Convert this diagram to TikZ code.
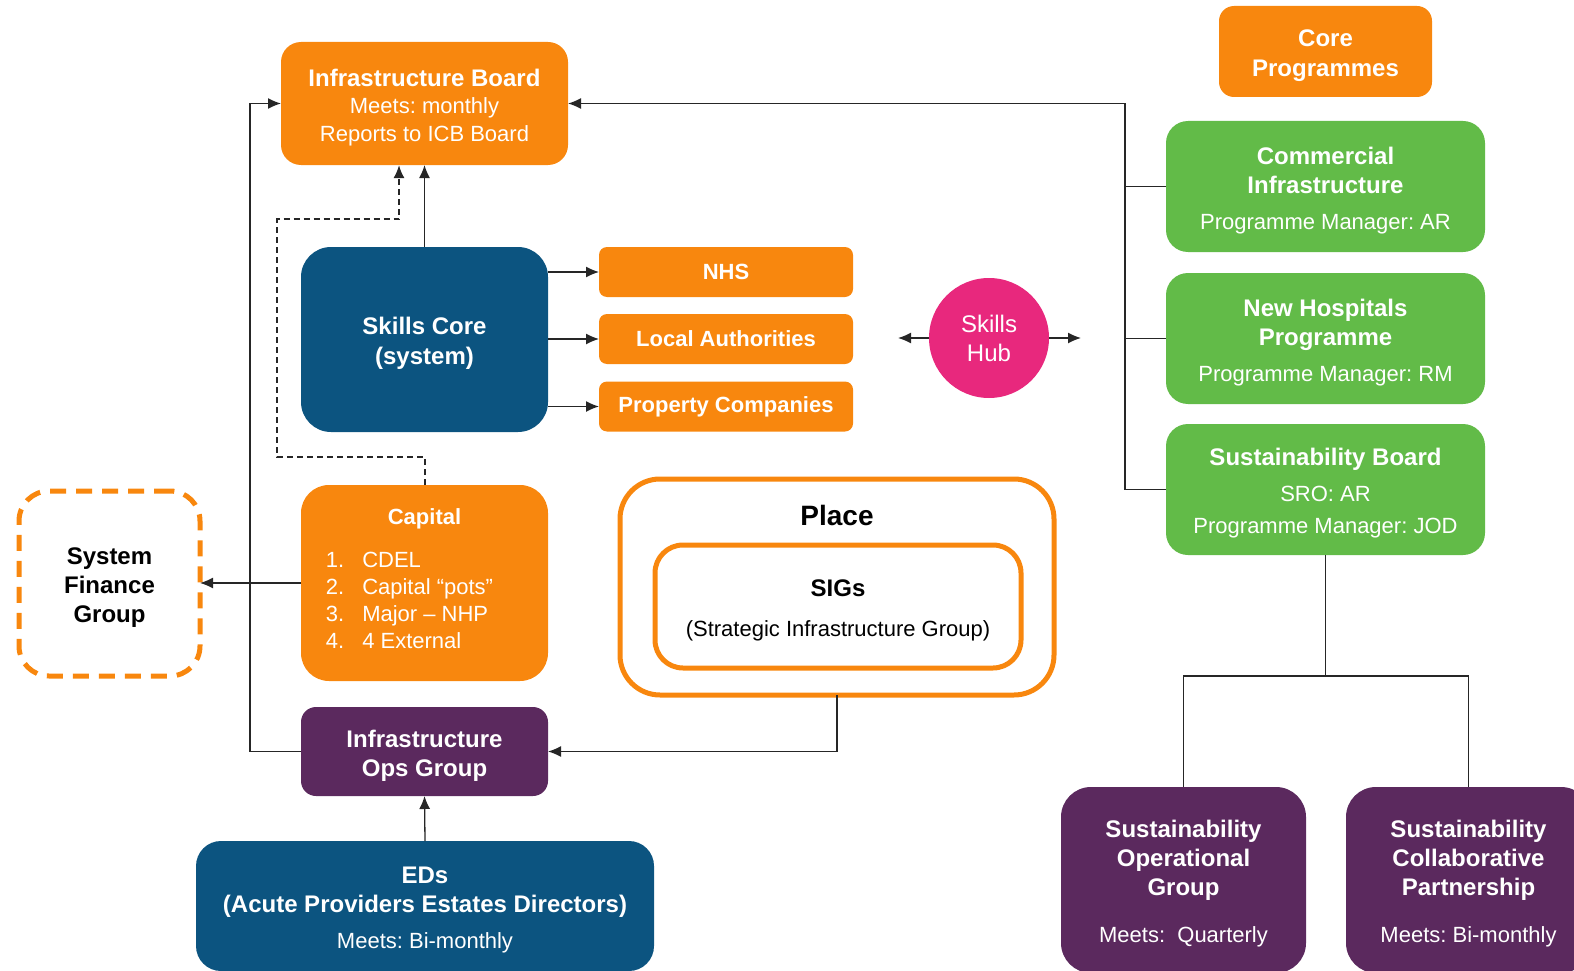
\documentclass[tikz,border=0pt]{standalone}
\usepackage{fontspec}
\setmainfont{Liberation Sans}
\usetikzlibrary{arrows.meta}
\definecolor{icborange}{RGB}{248,135,14}
\definecolor{icbgreen}{RGB}{98,187,72}
\definecolor{icbblue}{RGB}{12,84,128}
\definecolor{icbpurple}{RGB}{91,41,94}
\definecolor{icbpink}{RGB}{232,40,125}
\newcommand{\hd}{\fontsize{24}{29}\selectfont\bfseries}
\newcommand{\topgap}{\rule{0pt}{25pt}}
\frenchspacing

\begin{document}
\begin{tikzpicture}[x=1pt, y=-1pt, >={Latex[length=13pt,width=11pt]},
  box/.style={rectangle, rounded corners=#1, text=white, align=center, inner sep=0pt, outer sep=0pt},
  box/.default=20pt,
  ring/.style={box=#1, draw=icborange, line width=5pt, text=black},
  line/.style={line width=1.3pt, draw=black!85}]
  \useasboundingbox (0,0) rectangle (1574,971);

  \node[box, fill=icborange, minimum width=287pt, minimum height=123pt, font=\fontsize{22}{27.5}\selectfont] (board) at (424.5,103.5) {{\hd\topgap Infrastructure Board}\\Meets: monthly\\Reports to ICB Board};
  \node[box=15pt, fill=icborange, minimum width=213pt, minimum height=91pt, font=\fontsize{24}{30}\selectfont\bfseries] (core) at (1325.5,51.5) {\topgap Core\\Programmes};
  \node[box=22pt, fill=icbgreen, minimum width=319pt, minimum height=131pt, font=\fontsize{22}{29}\selectfont] (comm) at (1325.5,186.5) {{\hd\topgap Commercial}\\{\hd Infrastructure}\\[7pt]Programme Manager: AR};
  \node[box=22pt, fill=icbgreen, minimum width=319pt, minimum height=131pt, font=\fontsize{22}{29}\selectfont] (nhp) at (1325.5,338.5) {{\hd\topgap New Hospitals}\\{\hd Programme}\\[7pt]Programme Manager: RM};
  \node[box=22pt, fill=icbgreen, minimum width=319pt, minimum height=131pt, font=\fontsize{22}{32}\selectfont] (sboard) at (1325.5,489.5) {{\hd\topgap Sustainability Board}\\[4pt]SRO: AR\\Programme Manager: JOD};

  \node[box=30pt, fill=icbblue, minimum width=247pt, minimum height=185pt, font=\fontsize{24}{30}\selectfont\bfseries] (skills) at (424.5,339.5) {\topgap Skills Core\\(system)};
  \node[box=8pt, fill=icborange, minimum width=254pt, minimum height=50pt, font=\fontsize{22}{27}\selectfont\bfseries] (nhs) at (726,272) {NHS};
  \node[box=8pt, fill=icborange, minimum width=254pt, minimum height=50pt, font=\fontsize{22}{27}\selectfont\bfseries] (la) at (726,339) {Local Authorities};
  \node[box=8pt, fill=icborange, minimum width=254pt, minimum height=50pt, font=\fontsize{22}{27}\selectfont\bfseries] (pc) at (726,406.5) {Property Companies};
  \node[circle, fill=icbpink, text=white, align=center, minimum size=120pt, inner sep=0pt, outer sep=0pt, font=\fontsize{24}{29}\selectfont] (hub) at (989,338) {Skills\\Hub};

  \node[box=28pt, fill=icborange, minimum width=247pt, minimum height=196pt, font=\fontsize{22}{27}\selectfont] (capital) at (424.5,583) {{\bfseries Capital}\\[16pt]\begin{tabular}[t]{@{}l@{\hspace{18pt}}l@{}}1.&CDEL\\2.&Capital “pots”\\3.&Major -- NHP\\4.&4 External\end{tabular}\hspace*{30pt}};
  \node[ring=30pt, dash pattern=on 16pt off 10pt, minimum width=181pt, minimum height=185pt, font=\fontsize{24}{29}\selectfont\bfseries] (sfg) at (109.5,583.5) {\topgap System\\Finance\\Group};
  \node[ring=40pt, minimum width=434pt, minimum height=216pt, label={[anchor=north, inner sep=0pt, yshift=-26pt, font=\fontsize{28}{32}\selectfont\bfseries]north:Place}] (place) at (837,587) {};
  \node[ring=28pt, minimum width=366pt, minimum height=123pt, font=\fontsize{22}{27}\selectfont] (sigs) at (838,606.5) {{\hd\topgap SIGs}\\[13pt](Strategic Infrastructure Group)};

  \node[box=15pt, fill=icbpurple, minimum width=247pt, minimum height=89pt, font=\fontsize{24}{29}\selectfont\bfseries] (ops) at (424.5,751.5) {\topgap Infrastructure\\Ops Group};
  \node[box=25pt, fill=icbblue, minimum width=458pt, minimum height=130pt, font=\fontsize{22}{29}\selectfont] (eds) at (425,906) {{\hd\topgap EDs}\\{\hd (Acute Providers Estates Directors)}\\[7pt]Meets: Bi-monthly};
  \node[box=30pt, fill=icbpurple, minimum width=245pt, minimum height=186pt, font=\fontsize{22}{29}\selectfont] (sog) at (1183.5,880) {{\hd\topgap Sustainability}\\{\hd Operational}\\{\hd Group}\\[18pt]Meets:\ \ Quarterly};
  \node[box=30pt, fill=icbpurple, minimum width=245pt, minimum height=186pt, font=\fontsize{22}{29}\selectfont] (scp) at (1468.5,880) {{\hd\topgap Sustainability}\\{\hd Collaborative}\\{\hd Partnership}\\[18pt]Meets: Bi-monthly};

  \coordinate (dk) at (399,219);
  \coordinate (lbus) at (250,103.5);
  \coordinate (rbus) at (1125,103.5);
  \coordinate (hubl) at (898,338);
  \coordinate (hubr) at (1081,338);
  \coordinate (split) at (1325.5,676);

  \draw[line,->] (skills.north) -- (skills.north |- board.south);
  \draw[line, line width=2pt, dash pattern=on 6pt off 4pt, ->] (capital.north) |- (277,457) |- (dk) -- (dk |- board.south);
  \foreach \n in {nhs,la,pc}
    \draw[line,->] (skills.east |- \n) -- (\n.west);
  \draw[line,->] (hub.west) -- (hubl);
  \draw[line,->] (hub.east) -- (hubr);
  \draw[line,->] (capital.west) -- (capital.west -| sfg.east);
  \draw[line,->] (ops.west) -| (lbus) -- (board.west);
  \draw[line,->] (place.south) |- (ops.east);
  \draw[line,->] (eds.north) -- (ops.south);
  \draw[line,->] (sboard.west) -| (rbus) -- (board.east);
  \foreach \n in {comm,nhp}
    \draw[line] (\n.west) -- (\n.west -| rbus);
  \draw[line] (sboard.south) -- (split);
  \draw[line] (sog.north) |- (split) -| (scp.north);
\end{tikzpicture}
\end{document}
